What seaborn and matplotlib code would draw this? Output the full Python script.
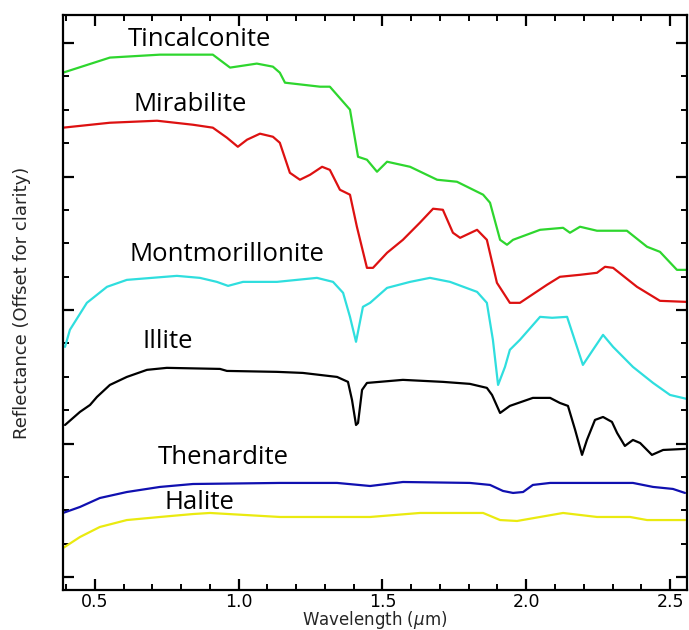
"""Offset reflectance spectra of evaporite and clay minerals."""

import matplotlib

matplotlib.use("Agg")
import matplotlib.pyplot as plt
import matplotlib.ticker as mticker
import pandas as pd
import seaborn as sns

# Spectra (wavelength in um, offset reflectance).
tincalconite_wl = [0.389, 0.552, 0.726, 0.910, 0.970, 1.063, 1.119, 1.143, 1.161, 1.283,
                   1.317, 1.387, 1.415, 1.446, 1.481, 1.516, 1.596, 1.690, 1.759, 1.850,
                   1.874, 1.909, 1.933, 1.954, 2.048, 2.128, 2.152, 2.187, 2.246, 2.350,
                   2.420, 2.465, 2.524, 2.559]
tincalconite_r = [3.778, 3.891, 3.913, 3.913, 3.816, 3.846, 3.823, 3.778, 3.703, 3.673,
                  3.673, 3.501, 3.148, 3.126, 3.036, 3.111, 3.073, 2.976, 2.961, 2.864,
                  2.804, 2.526, 2.489, 2.526, 2.601, 2.616, 2.579, 2.624, 2.594, 2.594,
                  2.474, 2.436, 2.301, 2.301]

mirabilite_wl = [0.389, 0.552, 0.716, 0.841, 0.910, 0.959, 0.997, 1.029, 1.074, 1.119,
                 1.143, 1.178, 1.213, 1.248, 1.290, 1.317, 1.352, 1.387, 1.411, 1.446,
                 1.467, 1.516, 1.571, 1.630, 1.676, 1.710, 1.745, 1.770, 1.829, 1.863,
                 1.898, 1.943, 1.978, 2.072, 2.117, 2.187, 2.246, 2.274, 2.302, 2.385,
                 2.465, 2.559]
mirabilite_r = [3.366, 3.403, 3.418, 3.388, 3.366, 3.291, 3.223, 3.276, 3.321, 3.298,
                3.253, 3.028, 2.976, 3.013, 3.073, 3.050, 2.901, 2.864, 2.624, 2.316,
                2.316, 2.429, 2.526, 2.654, 2.759, 2.751, 2.579, 2.541, 2.601, 2.526,
                2.204, 2.054, 2.054, 2.189, 2.249, 2.264, 2.279, 2.324, 2.316, 2.174,
                2.069, 2.061]

montmorillonite_wl = [0.396, 0.413, 0.472, 0.542, 0.611, 0.785, 0.865, 0.924, 0.963, 1.015,
                      1.133, 1.272, 1.328, 1.363, 1.387, 1.408, 1.432, 1.457, 1.516, 1.596,
                      1.665, 1.735, 1.829, 1.863, 1.884, 1.902, 1.926, 1.943, 1.978, 2.048,
                      2.090, 2.142, 2.197, 2.232, 2.267, 2.302, 2.371, 2.441, 2.500, 2.559]
montmorillonite_r = [1.724, 1.852, 2.054, 2.174, 2.226, 2.256, 2.241, 2.211, 2.181, 2.211,
                     2.211, 2.241, 2.211, 2.129, 1.949, 1.762, 2.024, 2.054, 2.166, 2.211,
                     2.241, 2.211, 2.136, 2.054, 1.777, 1.439, 1.574, 1.702, 1.777, 1.949,
                     1.942, 1.949, 1.589, 1.702, 1.814, 1.724, 1.574, 1.454, 1.364, 1.334]

illite_wl = [0.396, 0.448, 0.483, 0.507, 0.552, 0.611, 0.681, 0.750, 0.935, 0.959,
             1.133, 1.223, 1.342, 1.380, 1.394, 1.408, 1.415, 1.429, 1.446, 1.571,
             1.710, 1.804, 1.863, 1.881, 1.909, 1.943, 2.023, 2.083, 2.117, 2.145,
             2.170, 2.194, 2.211, 2.239, 2.267, 2.298, 2.316, 2.343, 2.371, 2.396,
             2.437, 2.476, 2.552]
illite_r = [1.139, 1.237, 1.289, 1.349, 1.439, 1.499, 1.552, 1.567, 1.559, 1.544,
            1.537, 1.529, 1.499, 1.462, 1.327, 1.139, 1.154, 1.402, 1.454, 1.477,
            1.462, 1.447, 1.417, 1.364, 1.229, 1.282, 1.342, 1.342, 1.304, 1.282,
            1.102, 0.915, 1.027, 1.177, 1.199, 1.162, 1.079, 0.982, 1.027, 1.004,
            0.915, 0.952, 0.960]

thenardite_wl = [0.389, 0.448, 0.517, 0.611, 0.726, 0.841, 1.143, 1.342, 1.457, 1.571,
                 1.804, 1.874, 1.919, 1.954, 1.989, 2.023, 2.083, 2.302, 2.371, 2.441,
                 2.510, 2.552]
thenardite_r = [0.480, 0.525, 0.592, 0.637, 0.675, 0.697, 0.705, 0.705, 0.682, 0.712,
                0.705, 0.690, 0.645, 0.630, 0.637, 0.690, 0.705, 0.705, 0.705, 0.675,
                0.660, 0.630]

halite_wl = [0.389, 0.448, 0.517, 0.611, 0.726, 0.841, 0.900, 1.143, 1.457, 1.630,
             1.850, 1.909, 1.968, 2.128, 2.246, 2.361, 2.420, 2.552]
halite_r = [0.217, 0.300, 0.375, 0.427, 0.450, 0.472, 0.480, 0.450, 0.450, 0.480,
            0.480, 0.427, 0.420, 0.480, 0.450, 0.450, 0.427, 0.427]

minerals = ["Tincalconite", "Mirabilite", "Montmorillonite", "Illite", "Thenardite", "Halite"]
colors = ["#2ed62e", "#dd1111", "#2fdede", "#000000", "#1010b0", "#eaea10"]
# label anchors (centre of text) in data units
label_x = [0.865, 0.830, 0.959, 0.754, 0.945, 0.865]
label_y = [4.026, 3.538, 2.414, 1.762, 0.892, 0.562]

spectra = {
    "Tincalconite": (tincalconite_wl, tincalconite_r),
    "Mirabilite": (mirabilite_wl, mirabilite_r),
    "Montmorillonite": (montmorillonite_wl, montmorillonite_r),
    "Illite": (illite_wl, illite_r),
    "Thenardite": (thenardite_wl, thenardite_r),
    "Halite": (halite_wl, halite_r),
}

df = pd.concat(
    [pd.DataFrame({"wavelength": wl, "reflectance": r, "mineral": name})
     for name, (wl, r) in spectra.items()],
    ignore_index=True,
)

sns.set_style("white")
plt.rcParams.update({
    "font.family": ["DejaVu Sans"],
    "axes.linewidth": 1.6,
    "xtick.direction": "in",
    "ytick.direction": "in",
    "xtick.top": True,
    "ytick.right": True,
    "xtick.bottom": True,
    "ytick.left": True,
    "xtick.major.size": 8,
    "ytick.major.size": 8,
    "xtick.minor.size": 4,
    "ytick.minor.size": 4,
    "xtick.major.width": 1.6,
    "ytick.major.width": 1.6,
    "xtick.minor.width": 1.4,
    "ytick.minor.width": 1.4,
})

fig = plt.figure(figsize=(6.89, 6.30), dpi=100)
ax = fig.add_axes([63 / 689, 40 / 630, 624 / 689, 575 / 630])

sns.lineplot(
    data=df,
    x="wavelength",
    y="reflectance",
    hue="mineral",
    hue_order=minerals,
    palette=dict(zip(minerals, colors)),
    estimator=None,
    sort=False,
    linewidth=1.6,
    legend=False,
    ax=ax,
)

for name, x, y in zip(minerals, label_x, label_y):
    ax.text(x, y, name, ha="center", va="center", fontsize=18.5,
            family=["Open Sans", "DejaVu Sans"], color="black")

ax.set_xlim(0.389, 2.559)
ax.set_ylim(-0.097, 4.21)
ax.xaxis.set_major_locator(mticker.MultipleLocator(0.5))
ax.xaxis.set_minor_locator(mticker.MultipleLocator(0.1))
ax.xaxis.set_major_formatter(mticker.FormatStrFormatter("%.1f"))
ax.yaxis.set_major_locator(mticker.MultipleLocator(1.0))
ax.yaxis.set_minor_locator(mticker.MultipleLocator(0.25))
ax.yaxis.set_major_formatter(mticker.NullFormatter())
ax.tick_params(axis="x", which="major", labelsize=12.5, pad=2, colors="black")
ax.tick_params(axis="both", which="both", color="black")
for spine in ax.spines.values():
    spine.set_color("black")

ax.set_xlabel(r"Wavelength ($\mu$m)", fontsize=12, labelpad=-1)
ax.set_ylabel("Reflectance (Offset for clarity)", fontsize=13)
ax.yaxis.set_label_coords(-0.051, 0.5)

fig.savefig("out.png", dpi=100)
